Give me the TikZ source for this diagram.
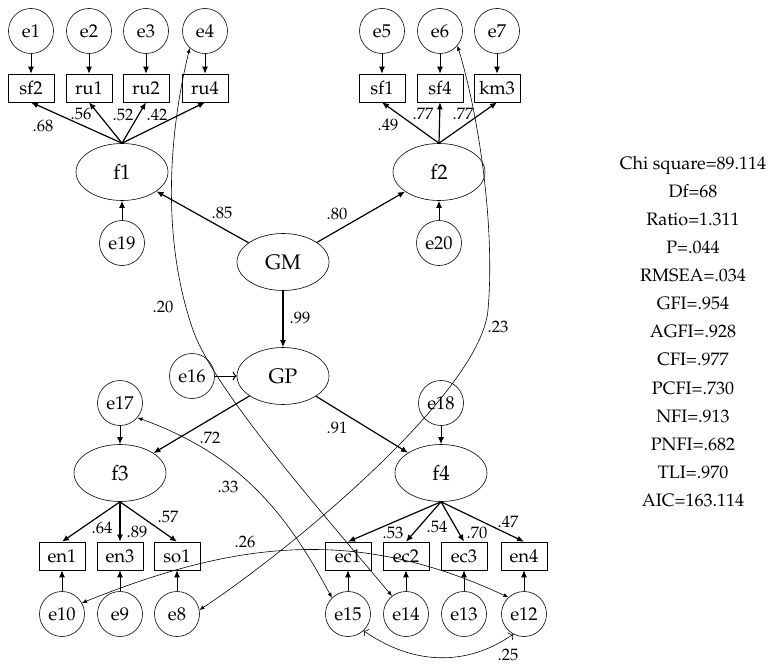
\documentclass[tikz,border=0pt]{standalone}
\usepackage[T1]{fontenc}
\usepackage{mathpazo}
\usetikzlibrary{shapes.geometric,arrows.meta}

\begin{document}
\begin{tikzpicture}[x=1pt, y=1pt, line width=0.6pt,
    err/.style={circle, draw, inner sep=0pt, minimum size=45pt},
    lat/.style={ellipse, draw, inner sep=0pt, minimum width=92pt,
      minimum height=57pt, font=\fontsize{21}{23}\selectfont},
    obs/.style={rectangle, draw, inner sep=0pt, minimum width=46pt,
      minimum height=28pt},
    wt/.style={inner sep=0pt, font=\fontsize{16.5}{18}\selectfont},
    cov/.style={{Latex[length=5pt,width=4pt]}-{Latex[length=5pt,width=4pt]}}]
  \useasboundingbox (0,0) rectangle (784,-666);

  \begin{scope}[every node/.style={font=\fontsize{18.5}{20}\selectfont}]
    % first order factors and second order
    \node [lat] (f1) at (122,-172) {f1};
    \node [lat] (f2) at (439,-172) {f2};
    \node [lat] (GM) at (283,-262) {GM};
    \node [lat] (GP) at (283,-376) {GP};
    \node [lat] (f3) at (120,-473) {f3};
    \node [lat] (f4) at (441,-473) {f4};
    % indicators
    \node [obs] (sf2) at (31,-88) {sf2};
    \node [obs] (ru1) at (89,-88) {ru1};
    \node [obs] (ru2) at (146,-88) {ru2};
    \node [obs] (ru4) at (205,-88) {ru4};
    \node [obs] (sf1) at (382,-88) {sf1};
    \node [obs] (sf4) at (440,-88) {sf4};
    \node [obs] (km3) at (497,-88) {km3};
    \node [obs] (en1) at (62,-556) {en1};
    \node [obs] (en3) at (120,-556) {en3};
    \node [obs] (so1) at (177,-556) {so1};
    \node [obs] (ec1) at (348,-556) {ec1};
    \node [obs] (ec2) at (406,-556) {ec2};
    \node [obs] (ec3) at (464,-556) {ec3};
    \node [obs] (en4) at (524,-556) {en4};
    % errors
    \node [err] (e1) at (31,-31) {e1};
    \node [err] (e2) at (89,-31) {e2};
    \node [err] (e3) at (146,-31) {e3};
    \node [err] (e4) at (205,-31) {e4};
    \node [err] (e5) at (382,-31) {e5};
    \node [err] (e6) at (440,-31) {e6};
    \node [err] (e7) at (497,-31) {e7};
    \node [err] (e19) at (122,-243) {e19};
    \node [err] (e20) at (439,-243) {e20};
    \node [err] (e16) at (192,-376) {e16};
    \node [err] (e17) at (120,-403) {e17};
    \node [err] (e18) at (441,-403) {e18};
    \node [err] (e10) at (62,-614) {e10};
    \node [err] (e9) at (120,-614) {e9};
    \node [err] (e8) at (177,-614) {e8};
    \node [err] (e15) at (348,-614) {e15};
    \node [err] (e14) at (406,-614) {e14};
    \node [err] (e13) at (464,-614) {e13};
    \node [err] (e12) at (524,-614) {e12};
  \end{scope}

  \begin{scope}[->, >={Latex[length=7pt,width=6pt]}, line width=1.2pt]
    \draw (f1.north) -- (sf2.south);
    \draw (f1.north) -- (ru1.south);
    \draw (f1.north) -- (ru2.south);
    \draw (f1.north) -- (ru4.south);
    \draw (f2.north) -- (sf1.south);
    \draw (f2.north) -- (sf4.south);
    \draw (f2.north) -- (km3.south);
    \draw (f3.south) -- (en1.north);
    \draw (f3.south) -- (en3.north);
    \draw (f3.south) -- (so1.north);
    \draw (f4.south) -- (ec1.north);
    \draw (f4.south) -- (ec2.north);
    \draw (f4.south) -- (ec3.north);
    \draw (f4.south) -- (en4.north);
    \draw (GM) -- (f1);
    \draw (GM) -- (f2);
    \draw (GM) -- (GP);
    \draw (GP) -- (f3);
    \draw (GP) -- (f4);
  \end{scope}

  \begin{scope}[->, >={Latex[length=7pt,width=6pt]}, line width=1pt]
    \draw (e1) -- (sf2);
    \draw (e2) -- (ru1);
    \draw (e3) -- (ru2);
    \draw (e4) -- (ru4);
    \draw (e5) -- (sf1);
    \draw (e6) -- (sf4);
    \draw (e7) -- (km3);
    \draw (e19) -- (f1);
    \draw (e20) -- (f2);
    \draw (e17) -- (f3);
    \draw (e18) -- (f4);
    \draw (e10) -- (en1);
    \draw (e9) -- (en3);
    \draw (e8) -- (so1);
    \draw (e15) -- (ec1);
    \draw (e14) -- (ec2);
    \draw (e13) -- (ec3);
    \draw (e12) -- (en4);
    \draw [-{To[length=4pt,width=9pt]}] (e16) -- (GP);
  \end{scope}

  % covariances
  \draw [cov] (e4.228) .. controls (165,-150) and (165,-250) .. (193,-330)
    .. controls (214,-390) and (320,-510) .. (e14.128);
  \draw [cov] (e6.-40) .. controls (480,-120) and (495,-230) .. (488,-310)
    .. controls (481,-390) and (300,-543) .. (e8.10);
  \draw [cov] (e17.-40) to [out=-20, in=118] (e15.135);
  \draw [cov] (e10.29) to [out=22, in=155] (e12.133);
  \draw [{To[length=4pt,width=9pt]}-{To[length=4pt,width=9pt]}]
    (e15.-47) to [out=-35, in=-145] (e12.-118);

  % weights
  \node [wt] (w68) at (43,-126) {.68};
  \node [wt] (w56) at (81,-114) {.56};
  \node [wt] (w52) at (123,-115) {.52};
  \node [wt] (w42) at (157,-115) {.42};
  \node [wt] (w49) at (388,-125) {.49};
  \node [wt] (w77a) at (423,-114) {.77};
  \node [wt] (w77b) at (463,-114) {.77};
  \node [wt] (w85) at (222,-213) {.85};
  \node [wt] (w80) at (337,-214) {.80};
  \node [wt] (w99) at (300,-318) {.99};
  \node [wt] (w20) at (163,-307) {.20};
  \node [wt] (w23) at (498,-327) {.23};
  \node [wt] (w72) at (210,-438) {.72};
  \node [wt] (w91) at (337,-428) {.91};
  \node [wt] (w33) at (228,-487) {.33};
  \node [wt] (w26) at (245,-542) {.26};
  \node [wt] (w64) at (102,-528) {.64};
  \node [wt] (w89) at (137,-532) {.89};
  \node [wt] (w57) at (168,-517) {.57};
  \node [wt] (w53) at (393,-533) {.53};
  \node [wt] (w54) at (437,-527) {.54};
  \node [wt] (w70) at (477,-533) {.70};
  \node [wt] (w47) at (508,-522) {.47};
  \node [wt] (w25) at (508,-655) {.25};

  % fit indices
  \node (fit) at (693,-331.5) [align=center, inner sep=0pt,
    font=\fontsize{18}{28.1}\selectfont]
    {Chi square=89.114\\Df=68\\Ratio=1.311\\P=.044\\RMSEA=.034\\GFI=.954\\
     AGFI=.928\\CFI=.977\\PCFI=.730\\NFI=.913\\PNFI=.682\\TLI=.970\\AIC=163.114};
\end{tikzpicture}
\end{document}
